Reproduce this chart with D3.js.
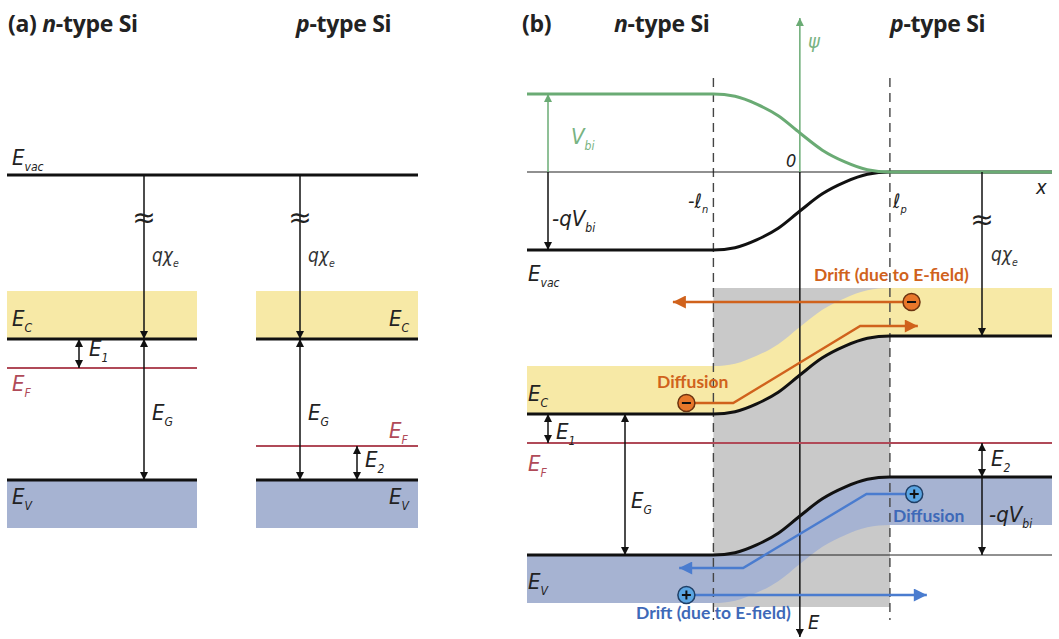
<!DOCTYPE html>
<html>
<head>
<meta charset="utf-8">
<script src="https://cdn.jsdelivr.net/npm/d3@7"></script>
<style>
body { margin: 0; background: #fff; }
</style>
</head>
<body>
<script>
// energies in diagram units (1 unit = 100 px), vacuum level = 0
const chi = 1.64;        // q*chi_e, drawn with a break
const EG = 1.41;
const E1 = 0.29;         // Ec - EF on the n side
const E2 = 0.34;         // EF - Ev on the p side
const bandDepth = 0.48;  // height of the shaded band strips
const Vbi = EG - E1 - E2;

// depletion edges and band bending profile
const ln = 0.96, lp = 1.0;
const bendX = [-3.03, -0.96, -0.72, -0.48, -0.24, 0, 0.25, 0.5, 0.75, 1.0, 2.8];
const bendS = [0, 0, 0.03, 0.13, 0.28, 0.5, 0.72, 0.87, 0.97, 1, 1];

// carrier paths in panel (b): [x, E]
const eDrift = [[1.24, -1.30], [-1.41, -1.30]];
const eDiff = [[-1.26, -2.31], [-0.74, -2.31], [0.67, -1.54], [1.31, -1.54]];
const hDiff = [[1.27, -3.22], [0.74, -3.22], [-0.63, -3.96], [-1.34, -3.96]];
const hDrift = [[-1.26, -4.23], [1.41, -4.23]];

const W = 1059, H = 639;
const C = {
  yellow: "#f7e9a6", blue: "#a6b3d2", gray: "#c9c9c9", red: "#b04a58",
  green: "#6aab74", greenText: "#78b382", orange: "#d0621c", blueArr: "#4a7ccf",
  blueText: "#3e69b8"
};
const labelFont = "'Liberation Sans Narrow','DejaVu Sans Condensed','Open Sans',sans-serif";
const titleFont = "'Open Sans','Liberation Sans',sans-serif";
const noteFont = "Lato,'Open Sans',sans-serif";

const svg = d3.select("body").append("svg").attr("width", W).attr("height", H);
const defs = svg.append("defs");

function marker(id, col, len, wid) {
  defs.append("marker").attr("id", id)
    .attr("viewBox", "0 0 10 10").attr("refX", 10).attr("refY", 5)
    .attr("markerUnits", "userSpaceOnUse")
    .attr("markerWidth", len).attr("markerHeight", wid)
    .attr("orient", "auto-start-reverse")
    .append("path").attr("d", "M0,0L10,5L0,10z").attr("fill", col);
}
marker("ak", "#111", 9, 8);
marker("ag", C.green, 9, 8);
marker("ao", C.orange, 15, 13);
marker("ab", C.blueArr, 15, 13);

// italic symbol with subscript
function sym(g, x, y, main, sub, col, size) {
  size = size || 22;
  const t = g.append("text").attr("x", x).attr("y", y)
    .attr("font-family", labelFont).attr("font-style", "italic")
    .attr("font-size", size).attr("fill", col || "#222");
  t.append("tspan").text(main);
  if (sub) t.append("tspan").attr("dy", size * 0.25).attr("font-size", size * 0.55).text(sub);
  return t;
}

function title(g, x, y, pre, it, post) {
  const t = g.append("text").attr("x", x).attr("y", y)
    .attr("font-family", titleFont).attr("font-weight", "bold")
    .attr("font-size", 23).attr("letter-spacing", -0.3).attr("fill", "#222");
  if (pre) t.append("tspan").text(pre);
  t.append("tspan").attr("font-style", "italic").text(it);
  t.append("tspan").text(post);
}

function vArrow(g, x, y0, y1, col, both, mk) {
  g.append("line").attr("x1", x).attr("x2", x).attr("y1", y0).attr("y2", y1)
    .attr("stroke", col || "#111").attr("stroke-width", 1.5)
    .attr("marker-end", `url(#${mk || "ak"})`)
    .attr("marker-start", both ? `url(#${mk || "ak"})` : null);
}

function breakMark(g, x, y) {
  g.append("text").attr("x", x).attr("y", y + 9).attr("text-anchor", "middle")
    .attr("font-size", 28).attr("font-family", "DejaVu Sans").attr("fill", "#222").text("≈");
}

// ---------------- panel (a) ----------------
const ga = svg.append("g");
const ya = d3.scaleLinear().domain([0, -4.5]).range([175, 625]);
const aEc = -chi, aEv = -chi - EG, aEFn = aEc - E1, aEFp = aEv + E2;
const sides = [
  {x0: 7, x1: 197, ef: aEFn},
  {x0: 256, x1: 418, ef: aEFp}
];
sides.forEach(s => {
  ga.append("rect").attr("x", s.x0).attr("width", s.x1 - s.x0)
    .attr("y", ya(aEc + bandDepth)).attr("height", ya(aEc) - ya(aEc + bandDepth)).attr("fill", C.yellow);
  ga.append("rect").attr("x", s.x0).attr("width", s.x1 - s.x0)
    .attr("y", ya(aEv)).attr("height", ya(aEv - bandDepth) - ya(aEv)).attr("fill", C.blue);
  [aEc, aEv].forEach(e => ga.append("line").attr("x1", s.x0).attr("x2", s.x1)
    .attr("y1", ya(e)).attr("y2", ya(e)).attr("stroke", "#111").attr("stroke-width", 3));
  ga.append("line").attr("x1", s.x0).attr("x2", s.x1).attr("y1", ya(s.ef)).attr("y2", ya(s.ef))
    .attr("stroke", C.red).attr("stroke-width", 1.8);
});
ga.append("line").attr("x1", 7).attr("x2", 418).attr("y1", ya(0)).attr("y2", ya(0))
  .attr("stroke", "#111").attr("stroke-width", 3);

[144, 300].forEach(x => {
  vArrow(ga, x, ya(0), ya(aEc));
  vArrow(ga, x, ya(aEc), ya(aEv), "#111", true);
  breakMark(ga, x, 218);
  sym(ga, x + 8, 262, "qχ", "e", "#333", 19);
  sym(ga, x + 8, 420, "E", "G");
});
vArrow(ga, 79, ya(aEc), ya(aEFn), "#111", true);
vArrow(ga, 357, ya(aEFp), ya(aEv), "#111", true);

title(ga, 8, 32, "(a) ", "n", "-type Si");
title(ga, 296, 32, "", "p", "-type Si");
sym(ga, 12, 165, "E", "vac");
sym(ga, 12, 326, "E", "C");
sym(ga, 12, 391, "E", "F", C.red);
sym(ga, 89, 356, "E", "1");
sym(ga, 12, 504, "E", "V");
sym(ga, 389, 326, "E", "C");
sym(ga, 389, 438, "E", "F", C.red);
sym(ga, 365, 467, "E", "2");
sym(ga, 389, 504, "E", "V");

// ---------------- panel (b) ----------------
const gb = svg.append("g");
const xb = d3.scaleLinear().domain([-3.03, 2.8]).range([527, 1052]);
const yb = d3.scaleLinear().domain([0, -4.5]).range([172, 622]);
const prof = bendX.map((x, i) => ({x, s: bendS[i]}));
const vac = d => -Vbi * (1 - d.s);
const ec = d => vac(d) - chi;
const ev = d => ec(d) - EG;
const bEF = -Vbi - chi - E1;

// depletion region
gb.append("rect").attr("x", xb(-ln)).attr("width", xb(lp) - xb(-ln))
  .attr("y", yb(-chi + bandDepth)).attr("height", 607 - yb(-chi + bandDepth)).attr("fill", C.gray);

const band = d3.area().x(d => xb(d.x)).curve(d3.curveMonotoneX);
gb.append("path").datum(prof).attr("fill", C.yellow)
  .attr("d", band.y0(d => yb(ec(d))).y1(d => yb(ec(d) + bandDepth)));
gb.append("path").datum(prof).attr("fill", C.blue)
  .attr("d", band.y0(d => yb(ev(d))).y1(d => yb(ev(d) - bandDepth)));

[-ln, lp].forEach(x => gb.append("line").attr("x1", xb(x)).attr("x2", xb(x))
  .attr("y1", 78).attr("y2", 620).attr("stroke", "#444").attr("stroke-width", 1.4)
  .attr("stroke-dasharray", "9,6"));

// reference line for -qVbi across the junction, and the x axis
const evLeft = -Vbi - chi - EG;
gb.append("line").attr("x1", xb(-ln)).attr("x2", xb(2.8))
  .attr("y1", yb(evLeft)).attr("y2", yb(evLeft)).attr("stroke", "#222").attr("stroke-width", 1);
gb.append("line").attr("x1", xb(-3.03)).attr("x2", xb(2.8)).attr("y1", yb(0)).attr("y2", yb(0))
  .attr("stroke", "#222").attr("stroke-width", 1.2);
vArrow(gb, xb(0), yb(0), 637);

const lineE = d3.line().x(d => xb(d.x)).curve(d3.curveMonotoneX);
[vac, ec, ev].forEach(f => gb.append("path").datum(prof)
  .attr("d", lineE.y(d => yb(f(d)))).attr("fill", "none").attr("stroke", "#111").attr("stroke-width", 3));
gb.append("line").attr("x1", xb(-3.03)).attr("x2", xb(2.8)).attr("y1", yb(bEF)).attr("y2", yb(bEF))
  .attr("stroke", C.red).attr("stroke-width", 1.8);

// psi curve and axis
vArrow(gb, xb(0), yb(0), 18, C.green, false, "ag");
gb.append("path").datum(prof).attr("d", lineE.y(d => yb(-vac(d))))
  .attr("fill", "none").attr("stroke", C.green).attr("stroke-width", 3);

// dimension arrows
vArrow(gb, 548, yb(0), yb(Vbi), C.green, false, "ag");
vArrow(gb, 548, yb(0), yb(-Vbi));
vArrow(gb, 548, yb(-Vbi - chi), yb(bEF), "#111", true);
vArrow(gb, 625, yb(-Vbi - chi), yb(evLeft), "#111", true);
vArrow(gb, 982, yb(0), yb(-chi));
breakMark(gb, 982, 220);
vArrow(gb, 982, yb(bEF), yb(-chi - EG), "#111", true);
vArrow(gb, 982, yb(-chi - EG), yb(evLeft));

// carrier transport
const path = d3.line().x(d => xb(d[0])).y(d => yb(d[1]));
[[eDrift, C.orange, "ao"], [eDiff, C.orange, "ao"], [hDiff, C.blueArr, "ab"], [hDrift, C.blueArr, "ab"]]
  .forEach(([pts, col, mk]) => gb.append("path").datum(pts).attr("d", path)
    .attr("fill", "none").attr("stroke", col).attr("stroke-width", 2.4)
    .attr("marker-end", `url(#${mk})`));
function carrier(p, sign) {
  const cx = xb(p[0]), cy = yb(p[1]);
  const neg = sign < 0;
  gb.append("circle").attr("cx", cx).attr("cy", cy).attr("r", 8.5)
    .attr("fill", neg ? "#e8772a" : "#5aa5e2").attr("stroke", neg ? "#6b3310" : "#1f3f66").attr("stroke-width", 1.5);
  gb.append("line").attr("x1", cx - 4.5).attr("x2", cx + 4.5).attr("y1", cy).attr("y2", cy)
    .attr("stroke", "#111").attr("stroke-width", 2);
  if (!neg) gb.append("line").attr("x1", cx).attr("x2", cx).attr("y1", cy - 4.5).attr("y2", cy + 4.5)
    .attr("stroke", "#111").attr("stroke-width", 2);
}
carrier(eDrift[0], -1);
carrier(eDiff[0], -1);
carrier(hDiff[0], 1);
carrier(hDrift[0], 1);

function note(x, y, txt, col) {
  gb.append("text").attr("x", x).attr("y", y).attr("font-family", noteFont)
    .attr("font-weight", "bold").attr("font-size", 17.5).attr("fill", col).text(txt);
}
note(814, 281, "Drift (due to E-field)", C.orange);
note(657, 388, "Diffusion", C.orange);
note(893, 522, "Diffusion", C.blueText);
note(636, 619, "Drift (due to E-field)", C.blueText);

// labels
title(gb, 522, 32, "(b)", "", "");
title(gb, 614, 32, "", "n", "-type Si");
title(gb, 890, 32, "", "p", "-type Si");
sym(gb, 808, 48, "ψ", null, C.greenText, 20);
sym(gb, 571, 144, "V", "bi", C.greenText);
sym(gb, 786, 167, "0", null, "#222", 18);
sym(gb, 1036, 194, "x", null, "#222", 20);
sym(gb, 552, 226, "-qV", "bi");
sym(gb, 688, 208, "-ℓ", "n", "#222", 20);
sym(gb, 893, 208, "ℓ", "p", "#222", 20);
sym(gb, 528, 281, "E", "vac");
sym(gb, 991, 261, "qχ", "e", "#333", 19);
sym(gb, 528, 401, "E", "C");
sym(gb, 556, 439, "E", "1");
sym(gb, 528, 471, "E", "F", C.red);
sym(gb, 631, 508, "E", "G");
sym(gb, 991, 466, "E", "2");
sym(gb, 989, 522, "-qV", "bi");
sym(gb, 528, 589, "E", "V");
sym(gb, 808, 629, "E", null, "#222", 20);
</script>
</body>
</html>
